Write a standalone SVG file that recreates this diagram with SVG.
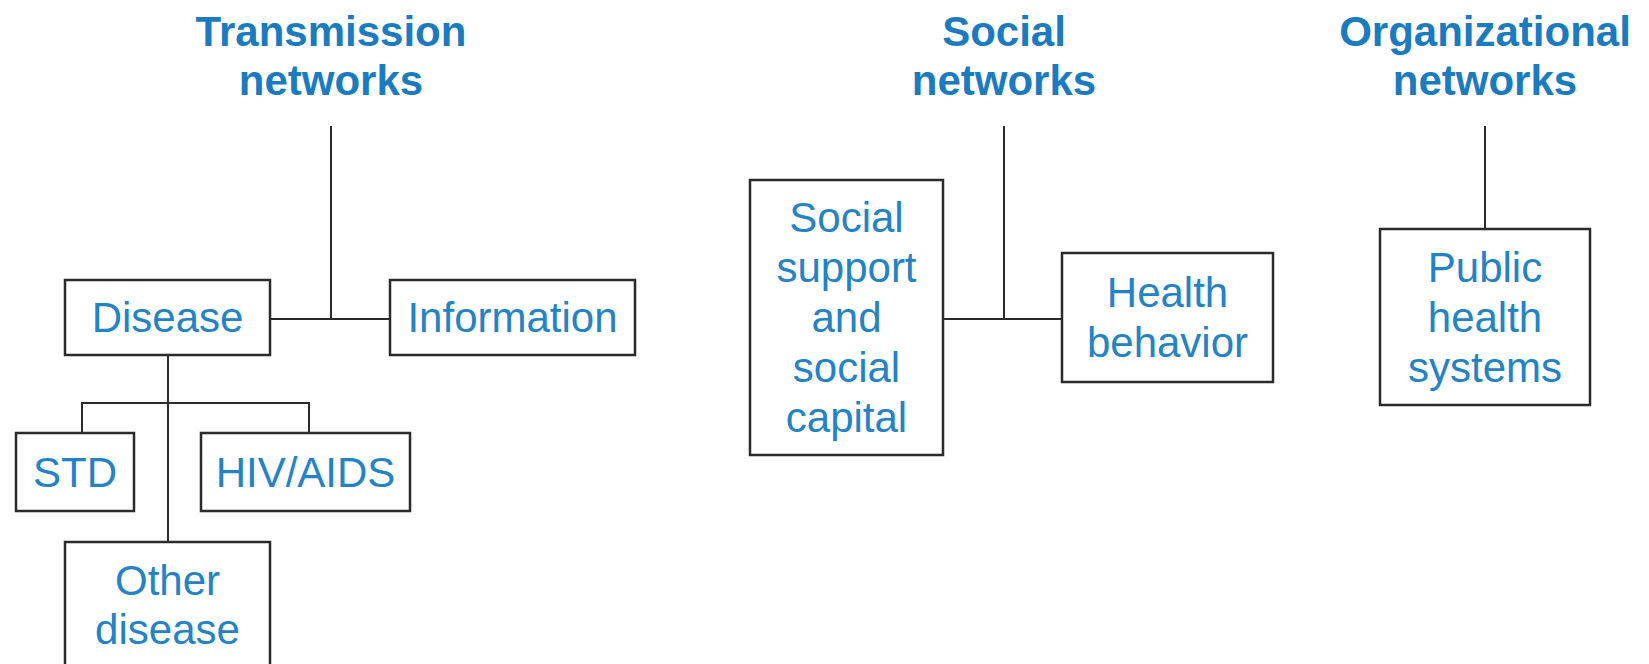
<svg xmlns="http://www.w3.org/2000/svg" width="1649" height="664" viewBox="0 0 1649 664">
<style>
.box{fill:#fff;stroke:#2b2b2b;stroke-width:2.5}
.ln{fill:none;stroke:#2b2b2b;stroke-width:2}
.t{font-family:"Liberation Sans",Arial,sans-serif;font-size:42px;fill:#2383c6;text-anchor:middle}
.h{font-family:"Liberation Sans",Arial,sans-serif;font-size:42px;font-weight:bold;fill:#1a7bc0;text-anchor:middle}
</style>
<rect width="1649" height="664" fill="#fff"/>
<g id="connectors">
<path class="ln" d="M331,126V319M270,319H390"/>
<path class="ln" d="M168,355V542M82,433V403H309V433"/>
<path class="ln" d="M1004,126V319M943,319H1062"/>
<path class="ln" d="M1485,126V229"/>
</g>
<g id="title-transmission"><text class="h" x="331" y="46">Transmission</text><text class="h" x="331" y="95">networks</text></g>
<g id="title-social"><text class="h" x="1004" y="46">Social</text><text class="h" x="1004" y="95">networks</text></g>
<g id="title-organizational"><text class="h" x="1485" y="46">Organizational</text><text class="h" x="1485" y="95">networks</text></g>
<g id="disease"><rect class="box" x="65" y="280" width="205" height="75"/><text class="t" x="167.5" y="332">Disease</text></g>
<g id="information"><rect class="box" x="390" y="280" width="245" height="75"/><text class="t" x="512.5" y="332">Information</text></g>
<g id="std"><rect class="box" x="16" y="433" width="118" height="78"/><text class="t" x="75" y="487">STD</text></g>
<g id="hivaids"><rect class="box" x="201" y="433" width="209" height="78"/><text class="t" x="305.5" y="487">HIV/AIDS</text></g>
<g id="other-disease"><rect class="box" x="65" y="542" width="205" height="130"/><text class="t" x="167.5" y="595">Other</text><text class="t" x="167.5" y="644">disease</text></g>
<g id="social-support"><rect class="box" x="750" y="180" width="193" height="275"/><text class="t" x="846.5" y="232">Social</text><text class="t" x="846.5" y="282">support</text><text class="t" x="846.5" y="332">and</text><text class="t" x="846.5" y="382">social</text><text class="t" x="846.5" y="432">capital</text></g>
<g id="health-behavior"><rect class="box" x="1062" y="253" width="211" height="129"/><text class="t" x="1167.5" y="307">Health</text><text class="t" x="1167.5" y="357">behavior</text></g>
<g id="public-health"><rect class="box" x="1380" y="229" width="210" height="176"/><text class="t" x="1485" y="282">Public</text><text class="t" x="1485" y="332">health</text><text class="t" x="1485" y="382">systems</text></g>
</svg>
